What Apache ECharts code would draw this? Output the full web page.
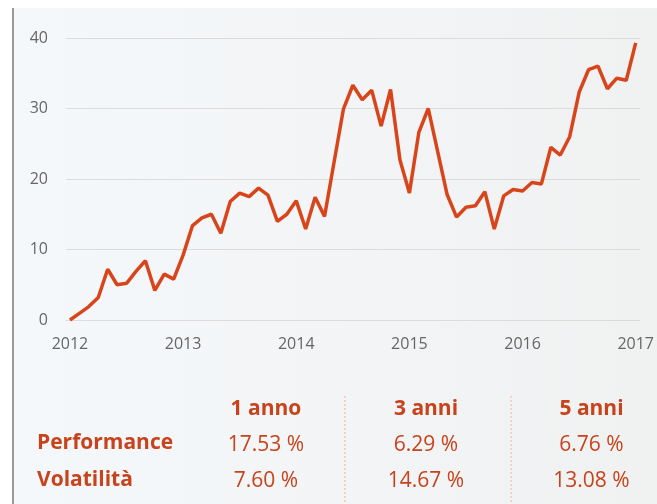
<!DOCTYPE html>
<html>
<head>
<meta charset="utf-8">
<script src="https://cdn.jsdelivr.net/npm/echarts@6/dist/echarts.min.js"></script>
<style>
html,body{margin:0;padding:0;background:#fff;}
#chart{width:657px;height:504px;}
</style>
</head>
<body>
<div id="chart"></div>
<script>
// ---- data ----
var startYear = 2012;
var yearLabels = [2012, 2013, 2014, 2015, 2016, 2017];
var yTicks = [0, 10, 20, 30, 40];
// monthly values, Jan 2012 .. Jan 2017
var values = [
  0.0, 0.95, 1.9, 3.2, 7.2, 5.0, 5.2, 6.9, 8.4, 4.2, 6.5, 5.8,
  9.2, 13.4, 14.5, 15.0, 12.3, 16.8, 18.0, 17.5, 18.7, 17.7, 14.0, 15.0,
  16.9, 12.9, 17.4, 14.7, 22.3, 29.9, 33.3, 31.25, 32.6, 27.5, 32.7, 22.7,
  18.0, 26.6, 30.0, 23.9, 17.8, 14.6, 16.0, 16.2, 18.2, 12.9, 17.6, 18.5,
  18.3, 19.5, 19.3, 24.5, 23.4, 26.0, 32.3, 35.5, 36.0, 32.8, 34.3, 34.0,
  39.3
];
var periods = ['1 anno', '3 anni', '5 anni'];
var rowLabels = ['Performance', 'Volatilità'];
var performance = ['17.53 %', '6.29 %', '6.76 %'];
var volatility = ['7.60 %', '14.67 %', '13.08 %'];

var seriesData = values.map(function (v, i) { return [startYear + i / 12, v]; });

var textColor = '#c8431b';
var colX = [266, 426, 591.5];
var tableFont = '"Open Sans", sans-serif';

var graphics = [
  { type: 'rect', z: -100, silent: true, shape: { x: 12, y: 8, width: 645, height: 496 },
    style: { fill: { type: 'linear', x: 0, y: 0, x2: 1, y2: 0,
      colorStops: [{ offset: 0, color: '#f5f8fb' }, { offset: 1, color: '#f0f1f1' }] } } },
  { type: 'rect', z: 100, silent: true, shape: { x: 12, y: 8, width: 2, height: 496 },
    style: { fill: '#9b9b9b' } }
];
[345, 511].forEach(function (x) {
  graphics.push({ type: 'line', z: 100, silent: true,
    shape: { x1: x, y1: 396, x2: x, y2: 504 },
    style: { stroke: '#efb2a2', lineWidth: 1, lineDash: [2, 2] } });
});
periods.forEach(function (p, i) {
  graphics.push({ type: 'text', z: 100, x: colX[i], y: 420,
    style: { text: p, fill: textColor, font: 'bold 21px ' + tableFont, textAlign: 'center', verticalAlign: 'bottom' } });
});
var rows = [performance, volatility];
var rowBottom = [455.5, 492];
rowLabels.forEach(function (lab, r) {
  graphics.push({ type: 'text', z: 100, x: 37, y: rowBottom[r] - 1.5,
    style: { text: lab, fill: textColor, font: 'bold 21px ' + tableFont, textAlign: 'left', verticalAlign: 'bottom' } });
  rows[r].forEach(function (v, i) {
    graphics.push({ type: 'text', z: 100, x: colX[i], y: rowBottom[r],
      style: { text: v, fill: textColor, font: '21px ' + tableFont, textAlign: 'center', verticalAlign: 'bottom' } });
  });
});

var chart = echarts.init(document.getElementById('chart'), null, { renderer: 'canvas' });
chart.setOption({
  animation: false,
  backgroundColor: '#ffffff',
  grid: { left: 66, right: 16, top: 38, bottom: 184, containLabel: false },
  xAxis: {
    type: 'value',
    min: 2011.965,
    max: 2017.038,
    axisLine: { show: false },
    axisTick: { show: false },
    splitLine: { show: false },
    axisLabel: {
      customValues: yearLabels,
      formatter: function (v) { return String(Math.round(v)); },
      color: '#666666',
      fontFamily: '"Open Sans", sans-serif',
      fontSize: 16,
      margin: 16
    }
  },
  yAxis: {
    type: 'value',
    min: yTicks[0],
    max: yTicks[yTicks.length - 1],
    interval: 10,
    axisLine: { show: false },
    axisTick: { show: false },
    splitLine: { lineStyle: { color: '#dcdcdc', width: 1 } },
    axisLabel: {
      color: '#666666',
      fontFamily: '"Open Sans", sans-serif',
      fontSize: 16,
      margin: 18
    }
  },
  series: [{
    type: 'line',
    data: seriesData,
    symbol: 'none',
    lineStyle: { color: '#d8451b', width: 3.5 },
    z: 5
  }],
  graphic: { elements: graphics }
});
</script>
</body>
</html>
